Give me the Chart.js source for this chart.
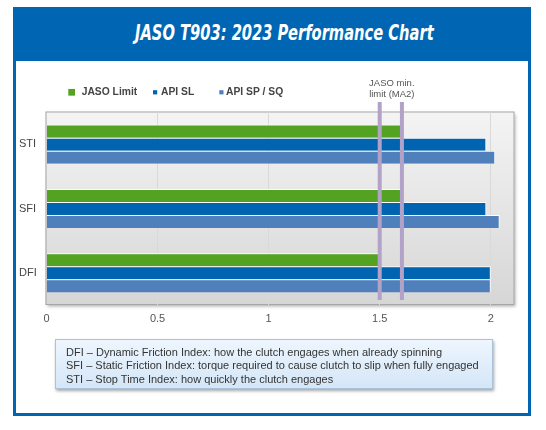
<!DOCTYPE html>
<html>
<head>
<meta charset="utf-8">
<script src="https://cdn.jsdelivr.net/npm/chart.js@4"></script>
<style>
    body { margin: 0; background: #fff; font-family: "Liberation Sans", Arial, sans-serif; }
    #frame {
        position: absolute; left: 13px; top: 7px; width: 518px; height: 409px;
        border: 3px solid #0066b3; box-sizing: border-box; border-top: none;
    }
    #header {
        position: absolute; left: 13px; top: 7px; width: 518px; height: 54px;
        background: #0066b3;
    }
    #title {
        position: absolute; left: 135px; top: 22px; white-space: nowrap;
        font: italic bold 22px/22px "Liberation Sans Narrow", "DejaVu Sans Condensed", sans-serif;
        color: #fff; transform-origin: left center;
    }
    #chart { position: absolute; left: 0; top: 0; }
    #notes {
        position: absolute; left: 55px; top: 339px; width: 438px; height: 50px;
        box-sizing: border-box; padding: 6px 0 0 10px;
        background: linear-gradient(#eef6fe, #d4e6f7);
        border: 1px solid #a9c3db; box-shadow: 1px 2px 3px rgba(0,0,0,0.35);
        font-size: 11px; line-height: 13.3px; color: #333;
    }
</style>
</head>
<body>
<div id="frame"></div>
<div id="header"></div>
<div id="title">JASO T903: 2023 Performance Chart</div>
<canvas id="chart" width="546" height="430"></canvas>
<div id="notes">
    DFI – Dynamic Friction Index: how the clutch engages when already spinning<br>
    SFI – Static Friction Index: torque required to cause clutch to slip when fully engaged<br>
    STI – Stop Time Index: how quickly the clutch engages
</div>
<script>
const categories = ['STI', 'SFI', 'DFI'];
const jasoLimit = [1.6, 1.6, 1.5];
const apiSL = [1.98, 1.98, 2.0];
const apiSP = [2.02, 2.04, 2.0];
const xTicks = [0, 0.5, 1, 1.5, 2];
const maLimits = [1.5, 1.6];
const maLabel = ['JASO min.', 'limit (MA2)'];

// squeeze the title to the width of the condensed face in the original
const title = document.getElementById('title');
title.style.transform = `scaleX(${299 / title.offsetWidth})`;

const plotBackground = {
    id: 'plotBackground',
    beforeDraw(chart) {
        const { ctx, chartArea: a } = chart;
        const x = a.left - 1, y = a.top - 0.5, w = a.right - a.left + 2.5, h = a.bottom - a.top + 0.5;
        const grad = ctx.createLinearGradient(0, y, 0, y + h);
        grad.addColorStop(0, '#f4f4f4');
        grad.addColorStop(1, '#d6d6d6');
        ctx.save();
        ctx.shadowColor = 'rgba(0,0,0,0.3)';
        ctx.shadowBlur = 3;
        ctx.shadowOffsetX = 1;
        ctx.shadowOffsetY = 2;
        ctx.fillStyle = grad;
        ctx.fillRect(x, y, w, h);
        ctx.restore();
        ctx.save();
        ctx.strokeStyle = '#a6a6a6';
        ctx.lineWidth = 1;
        ctx.strokeRect(x + 0.5, y + 0.5, w - 1, h - 1);
        ctx.restore();
    }
};

const limitLines = {
    id: 'limitLines',
    afterDatasetsDraw(chart) {
        const { ctx, chartArea: a, scales: { x } } = chart;
        ctx.save();
        ctx.strokeStyle = '#b3a2c7';
        ctx.lineWidth = 4;
        maLimits.forEach(v => {
            const px = x.getPixelForValue(v);
            ctx.beginPath();
            ctx.moveTo(px, a.top - 10);
            ctx.lineTo(px, a.bottom - 5);
            ctx.stroke();
        });
        const cx = (x.getPixelForValue(maLimits[0]) + x.getPixelForValue(maLimits[1])) / 2;
        ctx.fillStyle = '#555';
        ctx.font = '9.5px "Liberation Sans", Arial, sans-serif';
        ctx.textAlign = 'center';
        ctx.textBaseline = 'middle';
        ctx.fillText(maLabel[0], cx + 1, a.top - 28.5);
        ctx.fillText(maLabel[1], cx + 1, a.top - 17.5);
        ctx.restore();
    }
};

const legendRow = {
    id: 'legendRow',
    afterDraw(chart) {
        const { ctx } = chart;
        const spots = [
            { mx: 68.3, size: 6.7, tx: 81.7 },
            { mx: 153, size: 4.2, tx: 161 },
            { mx: 219.3, size: 4.2, tx: 226 }
        ];
        const cy = 92.3;
        ctx.save();
        ctx.font = 'bold 10.3px "Liberation Sans", Arial, sans-serif';
        ctx.textBaseline = 'middle';
        chart.data.datasets.forEach((ds, i) => {
            const s = spots[i];
            ctx.fillStyle = ds.backgroundColor;
            ctx.fillRect(s.mx, cy - s.size / 2, s.size, s.size);
            ctx.fillStyle = '#454545';
            ctx.fillText(ds.label, s.tx, cy);
        });
        ctx.restore();
    }
};

const barStyle = {
    borderColor: '#ffffff',
    borderWidth: { top: 1, right: 1, bottom: 0, left: 0 },
    borderSkipped: false,
    barPercentage: 1,
    categoryPercentage: 0.61
};

new Chart(document.getElementById('chart'), {
    type: 'bar',
    data: {
        labels: categories,
        datasets: [
            { label: 'JASO Limit', data: jasoLimit, backgroundColor: '#53a221', ...barStyle },
            { label: 'API SL', data: apiSL, backgroundColor: '#0064b0', ...barStyle },
            { label: 'API SP / SQ', data: apiSP, backgroundColor: '#4f80bc', ...barStyle }
        ]
    },
    options: {
        indexAxis: 'y',
        responsive: false,
        animation: false,
        layout: { padding: { left: 19, right: 33, top: 112, bottom: 105 } },
        plugins: {
            legend: { display: false },
            tooltip: { enabled: false }
        },
        scales: {
            x: {
                min: 0,
                max: 2.1,
                afterFit: s => { s.height = 20; },
                afterBuildTicks: s => { s.ticks = xTicks.map(v => ({ value: v })); },
                grid: {
                    drawTicks: false,
                    color: ctx => ctx.tick && ctx.tick.value === 0 ? 'rgba(0,0,0,0)' : '#d9d9d9'
                },
                border: { display: false },
                ticks: {
                    padding: 7,
                    color: '#555',
                    callback: v => String(v),
                    font: { family: '"Liberation Sans", Arial, sans-serif', size: 11 }
                }
            },
            y: {
                afterFit: s => { s.width = 27.5; },
                grid: { display: false, drawTicks: false },
                border: { display: false },
                ticks: {
                    crossAlign: 'far',
                    padding: 0,
                    color: '#444',
                    font: { family: '"Liberation Sans", Arial, sans-serif', size: 11 }
                }
            }
        }
    },
    plugins: [plotBackground, limitLines, legendRow]
});
</script>
</body>
</html>
